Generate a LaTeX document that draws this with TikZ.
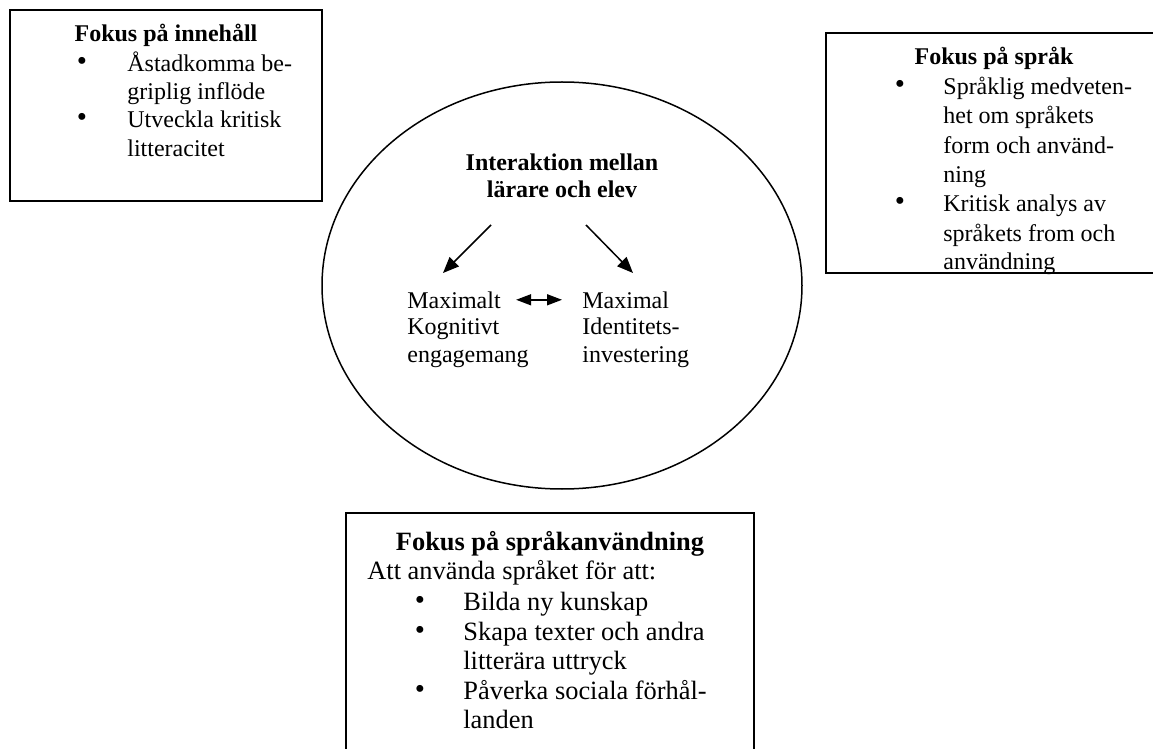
\documentclass[tikz,border=0pt]{standalone}
\usepackage{fontspec}
\setmainfont{Liberation Serif}
\usetikzlibrary{shapes.geometric,arrows.meta}
\begin{document}
\begin{tikzpicture}[x=0.5pt,y=-0.5pt]
        \tikzset{
        fokus box/.style={rectangle,draw,line width=0.75pt,inner sep=0},
        fokus oval/.style={ellipse,draw,line width=0.75pt,inner sep=0},
        fokus head/.style={anchor=base,inner sep=0,font=\fontsize{12}{14.4}\selectfont\bfseries},
        fokus line/.style={anchor=base west,inner sep=0,font=\fontsize{12}{14.4}\selectfont},
        fokus dot/.style={anchor=center,inner sep=0,font=\fontsize{14.5}{14.5}\selectfont},
        fokus big/.style={font=\fontsize{13.2}{15}\selectfont},
        fokus bighead/.style={font=\fontsize{13.2}{15}\selectfont\bfseries},
        fokus arrow/.style={line width=0.75pt,-{Triangle[length=8pt,width=6.5pt]}},
        fokus both/.style={line width=0.75pt,{Triangle[length=7.5pt,width=5.5pt]}-{Triangle[length=7.5pt,width=5.5pt]}}
        }
        \useasboundingbox (0,0) rectangle (1153,749);

        \node[fokus box,minimum width=156pt,minimum height=95.5pt] (inn) at (166,105.5) {};
        \node[fokus head] (innh) at (166,42) {Fokus på innehåll};
        \node[fokus dot] (innd1) at (82,64) {\textbullet};
        \node[fokus line] (inn1) at (127,72) {Åstadkomma be-};
        \node[fokus line] (inn2) at (127,100) {griplig inflöde};
        \node[fokus dot] (innd2) at (82,120) {\textbullet};
        \node[fokus line] (inn3) at (127,128) {Utveckla kritisk};
        \node[fokus line] (inn4) at (127,157) {litteracitet};

        \node[fokus box,minimum width=168pt,minimum height=120pt] (spr) at (994,153) {};
        \node[fokus head] (sprh) at (994,65) {Fokus på språk};
        \node[fokus dot] (sprd1) at (900,87) {\textbullet};
        \node[fokus line] (spr1) at (943,95) {Språklig medveten-};
        \node[fokus line] (spr2) at (943,124) {het om språkets};
        \node[fokus line] (spr3) at (943,154) {form och använd-};
        \node[fokus line] (spr4) at (943,183) {ning};
        \node[fokus dot] (sprd2) at (900,204) {\textbullet};
        \node[fokus line] (spr5) at (943,212) {Kritisk analys av};
        \node[fokus line] (spr6) at (943,242) {språkets from och};
        \node[fokus line] (spr7) at (943,270) {användning};

        \node[fokus oval,minimum width=240pt,minimum height=203.5pt] (mid) at (562,285.5) {};
        \node[fokus head] (midh1) at (562,171) {Interaktion mellan};
        \node[fokus head] (midh2) at (562,198) {lärare och elev};
        \node[fokus line] (kog1) at (407,308) {Maximalt};
        \node[fokus line] (kog2) at (407,335) {Kognitivt};
        \node[fokus line] (kog3) at (407,362) {engagemang};
        \node[fokus line] (ide1) at (582,308) {Maximal};
        \node[fokus line] (ide2) at (582,335) {Identitets-};
        \node[fokus line] (ide3) at (582,362) {investering};
        \coordinate (lfrom) at (491,225);
        \coordinate (lto) at (443,273);
        \coordinate (rfrom) at (586,225);
        \coordinate (rto) at (633,273);

        \node[fokus box,minimum width=204pt,minimum height=126pt] (anv) at (550,639) {};
        \node[fokus head,fokus bighead] (anvh) at (550,550) {Fokus på språkanvändning};
        \node[fokus line,fokus big] (anv0) at (367,579) {Att använda språket för att:};
        \node[fokus dot] (anvd1) at (420,603) {\textbullet};
        \node[fokus line,fokus big] (anv1) at (463,610) {Bilda ny kunskap};
        \node[fokus dot] (anvd2) at (420,633) {\textbullet};
        \node[fokus line,fokus big] (anv2) at (463,640) {Skapa texter och andra};
        \node[fokus line,fokus big] (anv3) at (463,669) {litterära uttryck};
        \node[fokus dot] (anvd3) at (420,692) {\textbullet};
        \node[fokus line,fokus big] (anv4) at (463,699) {Påverka sociala förhål-};
        \node[fokus line,fokus big] (anv5) at (463,728) {landen};

        \draw[fokus arrow] (lfrom) -- (lto);
        \draw[fokus arrow] (rfrom) -- (rto);
        \draw[fokus both,shorten <=7.5pt,shorten >=10pt] (kog1.east) -- (ide1.west);
    \end{tikzpicture}
\end{document}
